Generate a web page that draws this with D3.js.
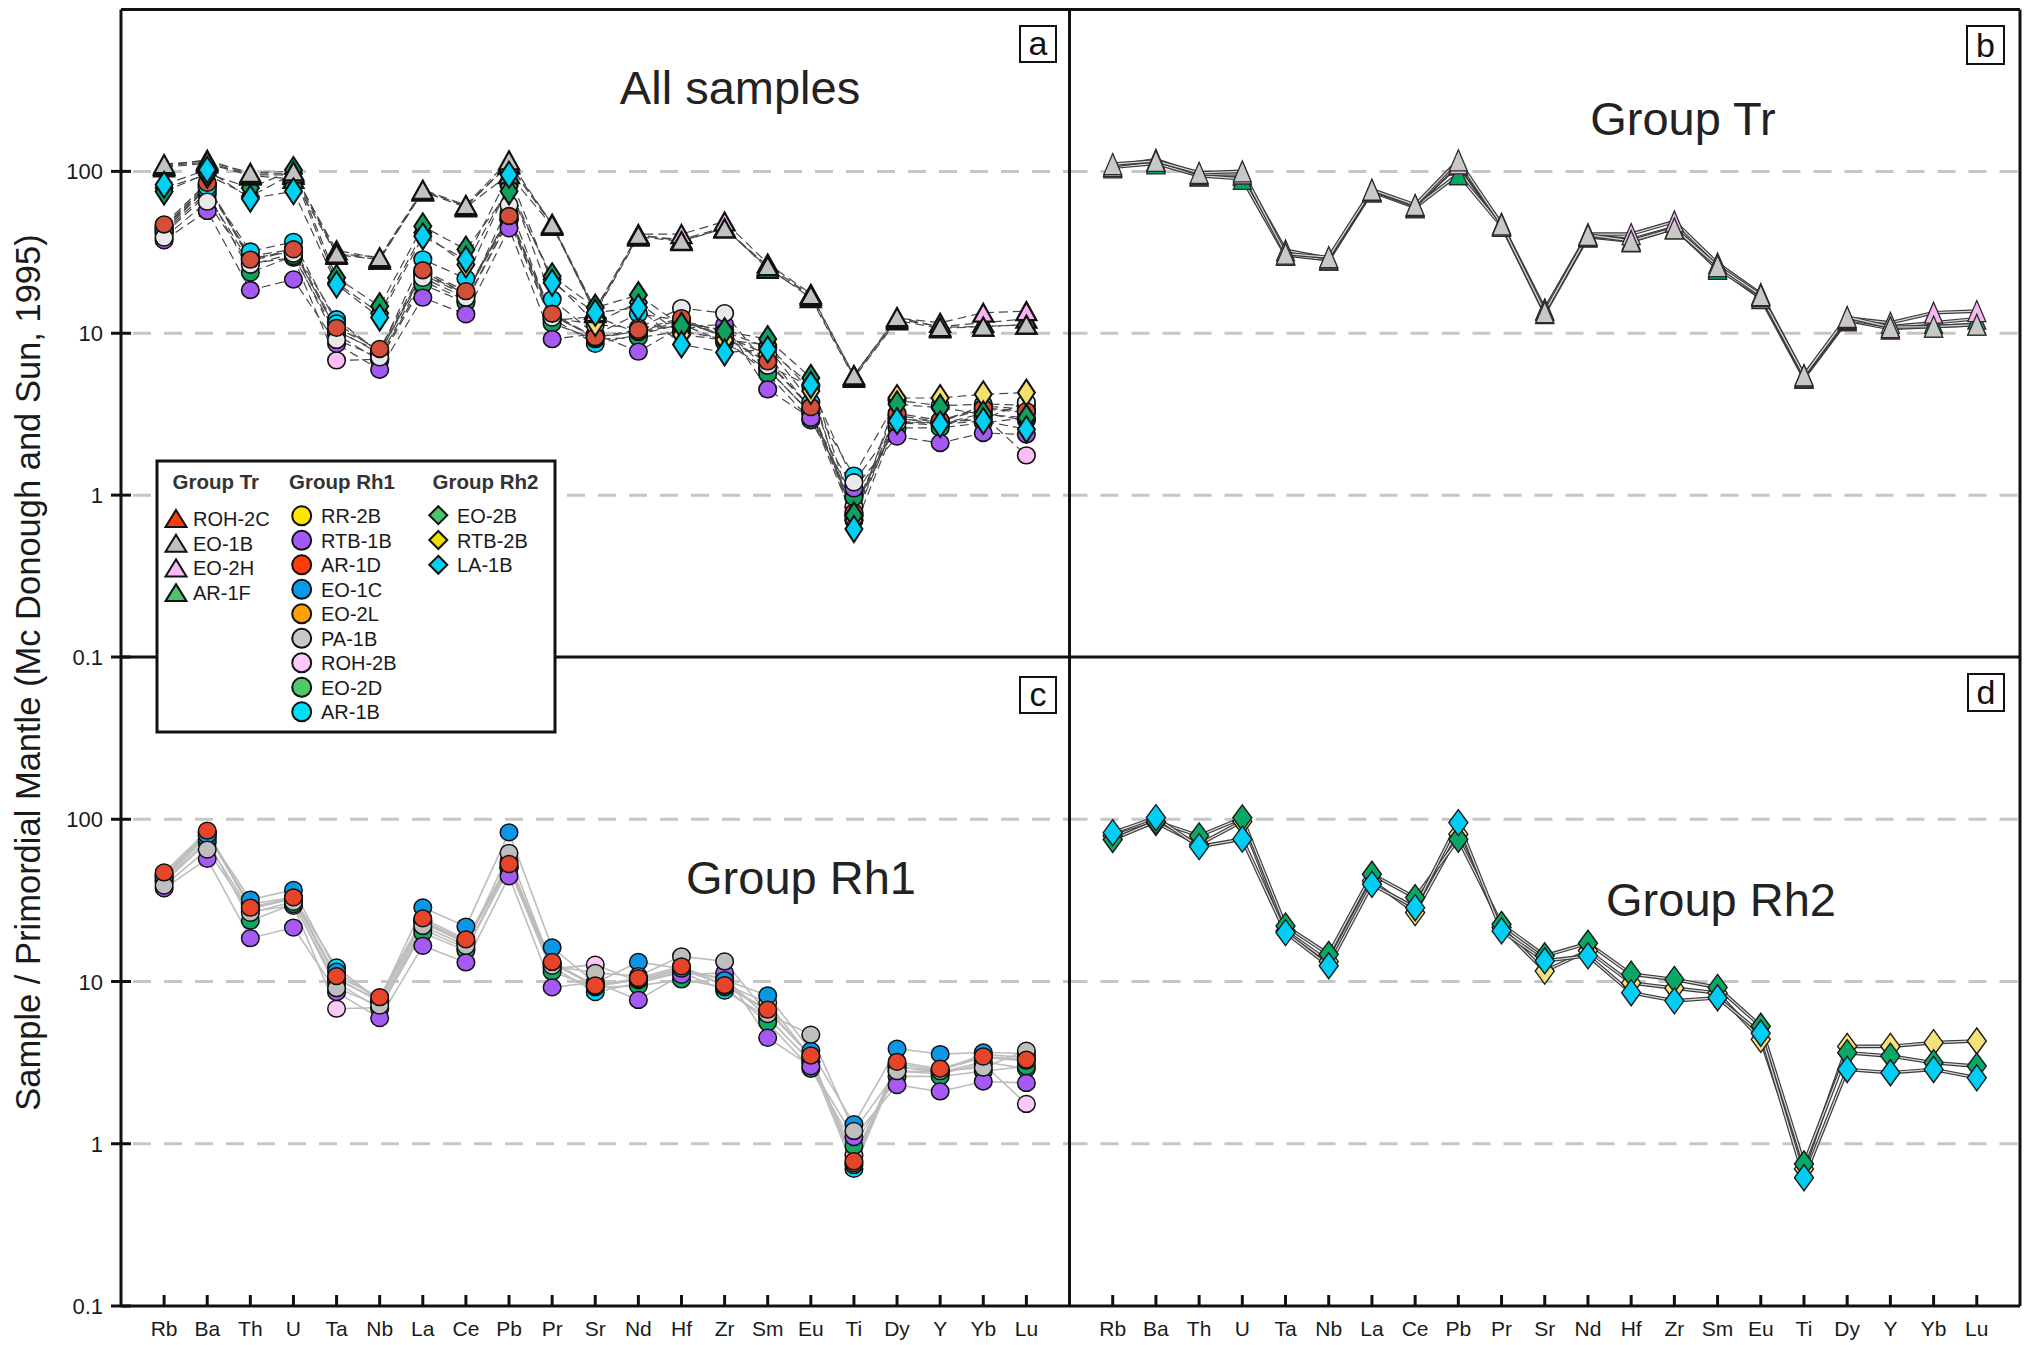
<!DOCTYPE html>
<html>
<head>
<meta charset="utf-8">
<script src="https://cdn.jsdelivr.net/npm/d3@7"></script>
<style>
  html, body { margin: 0; padding: 0; background: #fff; }
  svg { display: block; font-family: "Liberation Sans", Arial, Helvetica, sans-serif; }
</style>
</head>
<body>
<svg id="chart" width="2031" height="1345"></svg>
<script>
// ---- Elements (spider diagram order) ----
const elements = ["Rb","Ba","Th","U","Ta","Nb","La","Ce","Pb","Pr","Sr","Nd","Hf","Zr","Sm","Eu","Ti","Dy","Y","Yb","Lu"];
const yTickValues = [100, 10, 1, 0.1];
const yTickLabels = ["100", "10", "1", "0.1"];
const gridValues = [100, 10, 1];

// ---- Group Tr (normalised to primordial mantle) ----
const ROH_2C = [108,114,95,95,31,28.5,76,61,110,46.5,13.3,39.5,37,44.5,25.5,16.5,5.3,12,10.7,11,11.3];
const EO_1B  = [111,116,98,100,31,29.5,77,62,117,47,13.5,40.5,37.2,44.5,26,17.2,5.5,12.6,10.9,11,11.3];
const EO_2H  = [108,118,96,97,32.5,29,76,61,112,47.5,14,41,41,49,27,17.5,5.5,12.4,11.6,13.4,13.7];
const AR_1F  = [106,112,94,90,30.5,28.5,75,60,96,46,14,40,38,45,25,17,5.4,12.2,11,11.6,12.3];

// ---- Group Rh1 ----
const RR_2B  = [45,82,29,32,10.5,7.5,23.5,17.5,51,12.8,9.5,10.2,11.8,9.6,7.4,3.4,0.74,2.95,2.85,3.55,3.4];
const RTB_1B = [37.5,57,18.5,21.5,8.6,5.95,16.6,13.1,44.5,9.2,9.9,7.7,11,11.3,4.5,3.0,1.1,2.3,2.1,2.42,2.37];
const AR_1D  = [47,85,28.5,33,10.8,8.0,24.5,18.2,53,13.2,9.45,10.5,12.4,9.5,6.7,3.5,0.78,3.2,2.9,3.45,3.3];
const EO_1C  = [44,80,32,36.7,11.5,7.7,28.6,21.8,83,16.2,9.8,13.2,12,10.2,8.2,3.75,1.32,3.85,3.57,3.65,3.6];
const EO_2L  = [45.5,83,28,32.5,10.3,7.7,23.8,17.8,52,13,9.3,10.3,12.1,9.4,6.6,3.45,0.76,3.1,2.85,3.4,3.25];
const PA_1B  = [39,65,26.5,31,9.1,7.1,22,16.6,62,12.5,11.3,10.8,14.3,13.3,6.3,4.7,1.2,2.8,2.8,2.95,3.75];
const ROH_2B = [41,72,27,29.3,6.8,6.9,21,16,50,12,12.7,10,11.5,10.5,6,3.2,0.85,2.8,2.7,3.1,1.76];
const EO_2D  = [42,75,23.7,30,9.8,6.8,20,15.5,50,11.5,9.2,9.4,10.3,9.2,5.6,2.9,0.97,2.6,2.6,2.8,3.0];
const AR_1B  = [43,79,30,33,12.2,7.6,23,17.2,55,12.3,8.6,9.8,11.4,8.8,6.0,3.2,0.70,3.0,2.75,3.2,2.9];

// ---- Group Rh2 ----
const EO_2B  = [75,97,79,102,22,14.7,45.8,32.9,75.3,22.5,14.4,17.2,11.1,10.3,9.2,5.3,0.75,3.64,3.47,3.16,3.01];
const RTB_2B = [79,95.4,70,97,20.5,13.3,41.7,26.6,80.9,21.5,11.6,15.5,9.8,9.1,8.5,4.4,0.70,3.98,3.98,4.2,4.3];
const LA_1B  = [82.7,102.4,67.8,75.4,20,12.5,39.7,28.5,95.4,20.5,13.4,14.4,8.53,7.6,7.94,4.8,0.617,2.87,2.74,2.87,2.55];

// Legend order (names) per group
const trNames  = ["ROH-2C","EO-1B","EO-2H","AR-1F"];
const rh1Names = ["RR-2B","RTB-1B","AR-1D","EO-1C","EO-2L","PA-1B","ROH-2B","EO-2D","AR-1B"];
const rh2Names = ["EO-2B","RTB-2B","LA-1B"];

const values = {
  "ROH-2C": ROH_2C, "EO-1B": EO_1B, "EO-2H": EO_2H, "AR-1F": AR_1F,
  "RR-2B": RR_2B, "RTB-1B": RTB_1B, "AR-1D": AR_1D, "EO-1C": EO_1C, "EO-2L": EO_2L,
  "PA-1B": PA_1B, "ROH-2B": ROH_2B, "EO-2D": EO_2D, "AR-1B": AR_1B,
  "EO-2B": EO_2B, "RTB-2B": RTB_2B, "LA-1B": LA_1B
};

// ---- Styling ----
const legendColor = {
  "ROH-2C":"#ff3b0a","EO-1B":"#c0c0c0","EO-2H":"#f9b8f6","AR-1F":"#4cc46a",
  "RR-2B":"#ffe600","RTB-1B":"#a259f7","AR-1D":"#ff3d0a","EO-1C":"#0a9aea","EO-2L":"#ffa000",
  "PA-1B":"#c8c8c8","ROH-2B":"#fdc9fb","EO-2D":"#4fc96b","AR-1B":"#00def8",
  "EO-2B":"#4cc46a","RTB-2B":"#eae000","LA-1B":"#00d2f5"
};
const colorA = {
  "ROH-2C":"#e8442a","EO-1B":"#c2c2c2","EO-2H":"#f7b3f0","AR-1F":"#11a463",
  "RR-2B":"#f3df6e","RTB-1B":"#a359f2","AR-1D":"#d44f3a","EO-1C":"#00d4f4","EO-2L":"#f39a1a",
  "PA-1B":"#e9e9e9","ROH-2B":"#fcbdf6","EO-2D":"#0fa25f","AR-1B":"#00d4f4",
  "EO-2B":"#0fa25f","RTB-2B":"#f3df6e","LA-1B":"#00d0f2"
};
const colorB = {"ROH-2C":"#e8442a","EO-1B":"#c8c8c8","EO-2H":"#f5b8f0","AR-1F":"#00a862"};
const colorC = {
  "RR-2B":"#f5e06a","RTB-1B":"#a55af4","AR-1D":"#e6452a","EO-1C":"#0b97e6","EO-2L":"#f39a1a",
  "PA-1B":"#bfbfbf","ROH-2B":"#fcc8f8","EO-2D":"#12a764","AR-1B":"#00d6f5"
};
const colorD = {"EO-2B":"#0aa866","RTB-2B":"#f7e27a","LA-1B":"#00cef5"};

// Stacking order (first drawn = bottom)
const trOrder  = ["ROH-2C","AR-1F","EO-2H","EO-1B"];
const rh1Order = ["ROH-2B","AR-1B","EO-2D","RR-2B","EO-2L","RTB-1B","EO-1C","PA-1B","AR-1D"];
const rh2Order = ["RTB-2B","EO-2B","LA-1B"];

// ---- Layout ----
const L = 121, M = 1069.5, R = 2020, T = 9.5, MID = 657, B = 1306;

const xLeft  = d3.scalePoint().domain(elements).range([L, M]).padding(1);
const xRight = d3.scalePoint().domain(elements).range([M, R]).padding(1);
const yTop = d3.scaleLog().domain([0.1, 1000]).range([MID, T]);
const yBot = d3.scaleLog().domain([0.1, 1000]).range([B, MID]);

const svg = d3.select("#chart");
svg.append("rect").attr("width", 2031).attr("height", 1345).attr("fill", "#fff");

const triPath = (w, h) => `M0,${-h/2}L${w/2},${h/2}L${-w/2},${h/2}Z`;
const diaPath = (w, h) => `M0,${-h/2}L${w/2},0L0,${h/2}L${-w/2},0Z`;

function gridlines(g, x0, x1, y) {
  g.selectAll(null).data(gridValues).join("line")
    .attr("x1", x0).attr("x2", x1)
    .attr("y1", d => y(d)).attr("y2", d => y(d))
    .attr("stroke", "#c6c6c6").attr("stroke-width", 3)
    .attr("stroke-dasharray", "18,13");
}

function seriesLines(g, names, x, y, style) {
  const line = d3.line().x((d, i) => x(elements[i])).y(d => y(d));
  names.forEach(n => {
    style.forEach(s => {
      g.append("path").attr("d", line(values[n]))
        .attr("fill", "none")
        .attr("stroke", s.stroke).attr("stroke-width", s.width)
        .attr("stroke-dasharray", s.dash || null)
        .attr("stroke-linejoin", "round");
    });
  });
}

function markers(g, names, x, y, kind, colors, opt) {
  names.forEach(n => {
    const sel = g.selectAll(null).data(values[n]).join(kind === "circle" ? "ellipse" : "path");
    if (kind === "circle") {
      sel.attr("cx", (d, i) => x(elements[i])).attr("cy", d => y(d))
        .attr("rx", opt.rx).attr("ry", opt.ry);
    } else {
      const p = kind === "tri" ? triPath(opt.w, opt.h) : diaPath(opt.w, opt.h);
      sel.attr("d", p).attr("transform", (d, i) => `translate(${x(elements[i])},${y(d)})`);
    }
    sel.attr("fill", colors[n]).attr("stroke", opt.stroke || "#111").attr("stroke-width", opt.sw)
      .attr("stroke-linejoin", "miter");
  });
}

// ---- Panel a : all samples ----
const gA = svg.append("g");
gridlines(gA, L + 12, M, yTop);
const dashed = [{stroke: "#4a4a4a", width: 1.2, dash: "9,5"}];
seriesLines(gA, rh1Order, xLeft, yTop, dashed);
seriesLines(gA, trOrder, xLeft, yTop, dashed);
seriesLines(gA, rh2Order, xLeft, yTop, dashed);
const diaA = {w: 17, h: 26, sw: 2};
markers(gA, rh1Order, xLeft, yTop, "circle", colorA, {rx: 8.8, ry: 8.4, sw: 1.6});
markers(gA, ["RTB-2B", "EO-2B"], xLeft, yTop, "dia", colorA, diaA);
markers(gA, trOrder, xLeft, yTop, "tri", colorA, {w: 20, h: 18, sw: 2.2});
markers(gA, ["LA-1B"], xLeft, yTop, "dia", colorA, diaA);

// ---- Panel b : Group Tr ----
const gB = svg.append("g");
gridlines(gB, M, R, yTop);
const tube = [{stroke: "#3a3a3a", width: 3.6}, {stroke: "#d8d8d8", width: 1.3}];
seriesLines(gB, trOrder, xRight, yTop, tube);
markers(gB, trOrder, xRight, yTop, "tri", colorB, {w: 18, h: 21, sw: 1.3, stroke: "#2a2a2a"});

// ---- Panel c : Group Rh1 ----
const gC = svg.append("g");
gridlines(gC, L + 12, M, yBot);
seriesLines(gC, rh1Order, xLeft, yBot, [{stroke: "#bdbdbd", width: 1.6}]);
markers(gC, rh1Order, xLeft, yBot, "circle", colorC, {rx: 8.8, ry: 8.4, sw: 1.5});

// ---- Panel d : Group Rh2 ----
const gD = svg.append("g");
gridlines(gD, M, R, yBot);
seriesLines(gD, rh2Order, xRight, yBot, tube);
markers(gD, rh2Order, xRight, yBot, "dia", colorD, {w: 19, h: 26, sw: 1.4, stroke: "#1a1a1a"});

// ---- Frames ----
const frame = svg.append("g").attr("stroke", "#111").attr("stroke-width", 3).attr("fill", "none");
frame.append("line").attr("x1", L).attr("x2", L).attr("y1", T).attr("y2", B);
frame.append("line").attr("x1", L).attr("x2", R).attr("y1", T).attr("y2", T);
frame.append("line").attr("x1", R).attr("x2", R).attr("y1", T).attr("y2", B);
frame.append("line").attr("x1", L).attr("x2", R).attr("y1", B).attr("y2", B);
frame.append("line").attr("x1", M).attr("x2", M).attr("y1", T).attr("y2", B);
frame.append("line").attr("x1", L).attr("x2", R).attr("y1", MID).attr("y2", MID);

// ---- Y axis ticks + labels (left panels) ----
[yTop, yBot].forEach(y => {
  const ax = svg.append("g");
  ax.selectAll("line").data(yTickValues).join("line")
    .attr("x1", L - 10).attr("x2", L + 10)
    .attr("y1", d => y(d)).attr("y2", d => y(d))
    .attr("stroke", "#111").attr("stroke-width", 3);
  ax.selectAll("text").data(yTickValues).join("text")
    .attr("x", 103).attr("y", d => y(d) + 8)
    .attr("text-anchor", "end").attr("font-size", 22).attr("fill", "#1a1a1a")
    .text((d, i) => yTickLabels[i]);
});

// ---- X axis ticks + labels (bottom panels) ----
[xLeft, xRight].forEach(x => {
  const ax = svg.append("g");
  ax.selectAll("line").data(elements).join("line")
    .attr("x1", d => x(d)).attr("x2", d => x(d))
    .attr("y1", B).attr("y2", B - 11)
    .attr("stroke", "#111").attr("stroke-width", 3);
  ax.selectAll("text").data(elements).join("text")
    .attr("x", d => x(d)).attr("y", 1336)
    .attr("text-anchor", "middle").attr("font-size", 21).attr("fill", "#1a1a1a")
    .text(d => d);
});

// ---- Y axis title ----
svg.append("text")
  .attr("transform", "translate(40,672.5) rotate(-90)")
  .attr("text-anchor", "middle").attr("font-size", 34.5).attr("fill", "#1a1a1a")
  .text("Sample / Primordial Mantle (Mc Donough and Sun, 1995)");

// ---- Panel titles ----
const titles = [
  {t: "All samples", x: 740, y: 104},
  {t: "Group Tr", x: 1683, y: 135},
  {t: "Group Rh1", x: 801, y: 894},
  {t: "Group Rh2", x: 1721, y: 916}
];
svg.selectAll(".ttl").data(titles).join("text").attr("class", "ttl")
  .attr("x", d => d.x).attr("y", d => d.y)
  .attr("text-anchor", "middle").attr("font-size", 47).attr("fill", "#222")
  .text(d => d.t);

// ---- Panel letters ----
const letters = [
  {t: "a", x: 1020, y: 26, w: 36, h: 36},
  {t: "b", x: 1967, y: 26, w: 37, h: 38},
  {t: "c", x: 1020, y: 677, w: 36, h: 36},
  {t: "d", x: 1968, y: 674, w: 36, h: 37}
];
const lg = svg.selectAll(".plet").data(letters).join("g").attr("class", "plet");
lg.append("rect").attr("x", d => d.x).attr("y", d => d.y).attr("width", d => d.w).attr("height", d => d.h)
  .attr("fill", "#fff").attr("stroke", "#111").attr("stroke-width", 2);
lg.append("text").attr("x", d => d.x + d.w / 2).attr("y", d => d.y + d.h - 7)
  .attr("text-anchor", "middle").attr("font-size", 34).attr("fill", "#111").text(d => d.t);

// ---- Legend ----
const leg = svg.append("g");
leg.append("rect").attr("x", 157).attr("y", 461).attr("width", 398).attr("height", 271)
  .attr("fill", "#fff").attr("stroke", "#111").attr("stroke-width", 3);
const heads = [{t: "Group Tr", x: 172.5}, {t: "Group Rh1", x: 289}, {t: "Group Rh2", x: 432.5}];
leg.selectAll(".hd").data(heads).join("text").attr("class", "hd")
  .attr("x", d => d.x).attr("y", 488.5)
  .attr("font-size", 20.5).attr("font-weight", "bold").attr("fill", "#333")
  .text(d => d.t);

function legendColumn(names, sx, tx, y0, dy, kind) {
  names.forEach((n, i) => {
    const cy = y0 + i * dy;
    if (kind === "circle") {
      leg.append("circle").attr("cx", sx).attr("cy", cy).attr("r", 9.5)
        .attr("fill", legendColor[n]).attr("stroke", "#111").attr("stroke-width", 2);
    } else {
      const p = kind === "tri" ? triPath(21, 17) : diaPath(18, 18);
      leg.append("path").attr("d", p).attr("transform", `translate(${sx},${cy})`)
        .attr("fill", legendColor[n]).attr("stroke", "#111").attr("stroke-width", 2);
    }
    leg.append("text").attr("x", tx).attr("y", cy + 7.5)
      .attr("font-size", 20).attr("fill", "#1a1a1a").text(n);
  });
}
legendColumn(trNames, 176, 193, 518.5, 24.7, "tri");
legendColumn(rh1Names, 301.7, 321, 515.8, 24.5, "circle");
legendColumn(rh2Names, 438.3, 457, 515.2, 24.8, "dia");
</script>
</body>
</html>
